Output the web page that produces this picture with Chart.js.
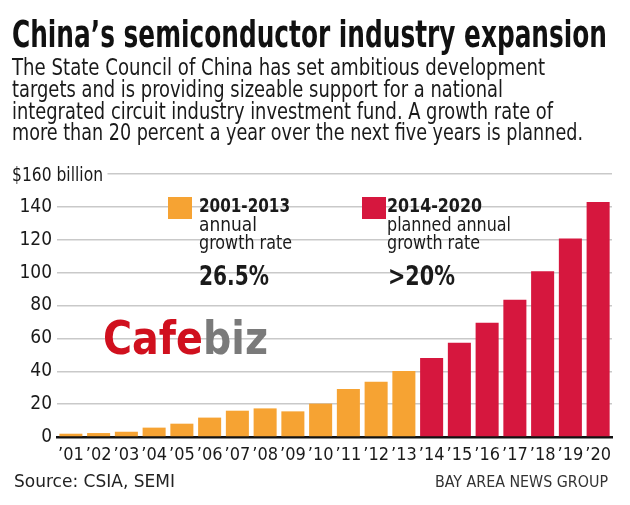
<!DOCTYPE html>
<html>
<head>
<meta charset="utf-8">
<script src="https://cdn.jsdelivr.net/npm/chart.js@4.4.1/dist/chart.umd.min.js"></script>
<style>
body { margin: 0; background: #fff; }
#wrap { position: relative; width: 630px; height: 505px; overflow: hidden;
  font-family: 'Liberation Sans Narrow', 'DejaVu Sans Condensed', 'Liberation Sans', sans-serif; color: #1a1a1a; }
#wrap canvas { position: absolute; left: 0; top: 0; }
.t { position: absolute; white-space: nowrap; line-height: 1; transform-origin: 0 0; }
.b { font-weight: bold; }
.box { position: absolute; width: 24px; height: 22px; }
</style>
</head>
<body>
<div id="wrap">
  <canvas id="chart" width="630" height="505"></canvas>

  <div class="t b" data-w="595" style="left:12px; top:15px; font-size:38px; color:#111;">China’s semiconductor industry expansion</div>
  <div class="t" data-w="533" style="left:12px; top:56px; font-size:23px;">The State Council of China has set ambitious development</div>
  <div class="t" data-w="491" style="left:12px; top:78px; font-size:23px;">targets and is providing sizeable support for a national</div>
  <div class="t" data-w="541" style="left:12px; top:100px; font-size:23px;">integrated circuit industry investment fund. A growth rate of</div>
  <div class="t" data-w="571" style="left:12px; top:121px; font-size:23px;">more than 20 percent a year over the next five years is planned.</div>

  <div class="t" data-w="91" style="left:12px; top:165px; font-size:19px; background:#fff; padding-right:5px;">$160 billion</div>

  <div class="box" id="box1" style="left:168px; top:197px;"></div>
  <div class="t b" data-w="91" style="left:199px; top:196px; font-size:19px;">2001-2013</div>
  <div class="t" data-w="58" style="left:199px; top:215px; font-size:19px;">annual</div>
  <div class="t" data-w="93" style="left:199px; top:233px; font-size:19px;">growth rate</div>
  <div class="t b" data-w="70" style="left:199px; top:262px; font-size:27px;">26.5%</div>

  <div class="box" id="box2" style="left:362px; top:197px;"></div>
  <div class="t b" data-w="95" style="left:387px; top:196px; font-size:19px;">2014-2020</div>
  <div class="t" data-w="124" style="left:387px; top:215px; font-size:19px;">planned annual</div>
  <div class="t" data-w="93" style="left:387px; top:233px; font-size:19px;">growth rate</div>
  <div class="t b" data-w="67" style="left:388px; top:262px; font-size:27px;">&gt;20%</div>

  <div class="t b" data-w="165" style="left:103px; top:315px; font-size:46px; font-family:'DejaVu Sans', sans-serif;"><span style="color:#d0101e;">Cafe</span><span style="color:#7a7a7a;">biz</span></div>

  <div class="t" data-w="161" style="left:14px; top:472px; font-size:18px; color:#222;">Source: CSIA, SEMI</div>
  <div class="t" data-w="173" style="left:435px; top:474px; font-size:16px; color:#333;">BAY AREA NEWS GROUP</div>
</div>

<script>
// Market size, billions of dollars (2001-2013 actual, 2014-2020 planned)
const years = ['’01','’02','’03','’04','’05','’06','’07','’08','’09','’10',
               '’11','’12','’13','’14','’15','’16','’17','’18','’19','’20'];
const sales = [2.0, 2.4, 3.2, 5.7, 8.1, 11.8, 16.0, 17.4, 15.6, 20.3,
               29.2, 33.6, 40.1, 48.0, 57.3, 69.5, 83.5, 100.9, 120.8, 143.0];
const actualCount = 13; // first 13 years are 2001-2013
const yMax = 160;
const yStep = 20;

const ORANGE = '#f6a333';
const RED = '#d6173e';
const NARROW = "'Liberation Sans Narrow', 'DejaVu Sans Condensed', 'Liberation Sans', sans-serif";

document.getElementById('box1').style.background = ORANGE;
document.getElementById('box2').style.background = RED;

let barColors = [];
for (let i = 0; i < years.length; i++) {
    barColors.push(i < actualCount ? ORANGE : RED);
}

new Chart(document.getElementById('chart'), {
    type: 'bar',
    data: {
        labels: years,
        datasets: [{
            data: sales,
            backgroundColor: barColors,
            barPercentage: 0.83,
            categoryPercentage: 1
        }]
    },
    options: {
        responsive: false,
        animation: false,
        layout: {
            padding: { top: 174, right: 18, bottom: 38, left: 0 }
        },
        plugins: {
            legend: { display: false },
            tooltip: { enabled: false }
        },
        scales: {
            x: {
                z: 1,
                grid: { display: false },
                border: { display: true, color: '#111', width: 2.5 },
                ticks: {
                    color: '#1a1a1a',
                    font: { family: NARROW, size: 18 },
                    padding: 0,
                    maxRotation: 0,
                    autoSkip: false
                },
                afterFit: function (s) { s.height = 30; }
            },
            y: {
                min: 0,
                max: yMax,
                border: { display: false },
                grid: {
                    color: '#c9c9c9',
                    lineWidth: 1.5,
                    drawTicks: false
                },
                ticks: {
                    stepSize: yStep,
                    padding: 5,
                    color: '#1a1a1a',
                    font: { family: NARROW, size: 19 },
                    callback: function (v) { return v === yMax ? '' : v; }
                },
                afterFit: function (s) { s.width = 57; }
            }
        }
    }
});

// squeeze each text line to the width it takes in the print layout
document.querySelectorAll('.t[data-w]').forEach(function (el) {
    const w = parseFloat(el.dataset.w);
    const pad = parseFloat(el.style.paddingRight || 0);
    const actual = el.getBoundingClientRect().width - pad;
    el.style.transform = 'scaleX(' + (w / actual) + ')';
});
</script>
</body>
</html>
